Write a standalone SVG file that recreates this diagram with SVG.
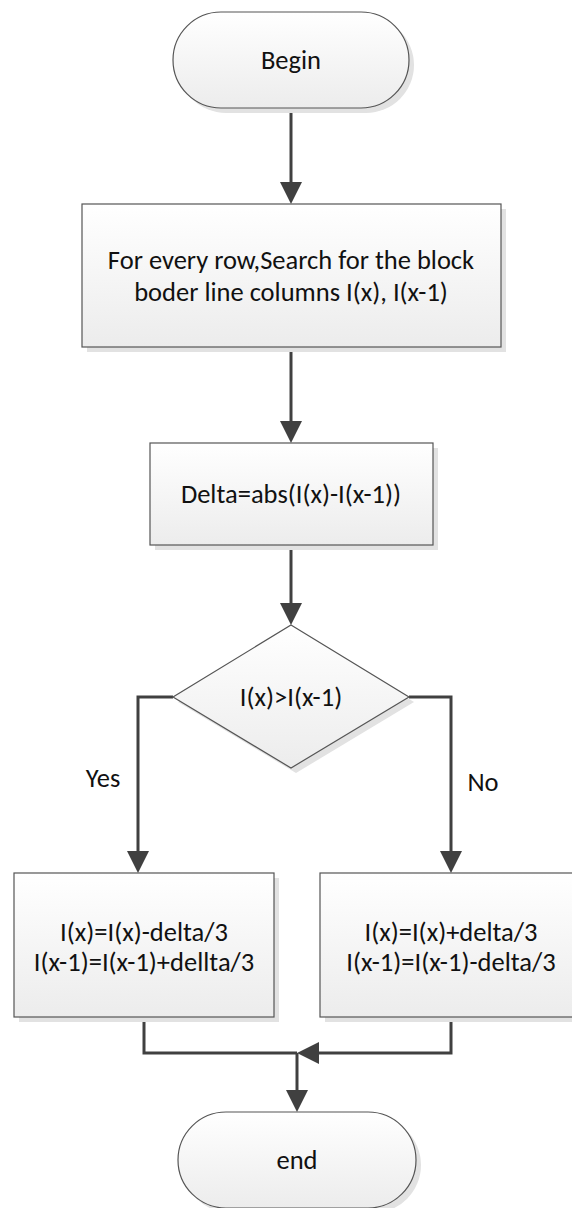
<svg xmlns="http://www.w3.org/2000/svg" width="572" height="1208" viewBox="0 0 572 1208">
<style>
.shape{stroke:#555555;stroke-width:1.2;fill:url(#g)}
.shadow{fill:#e2e2e2;stroke:none}
.t{font-family:Carlito,Lato,"Open Sans",sans-serif;font-size:26.5px;fill:#111111;text-anchor:middle;dominant-baseline:central}
.c{fill:none;stroke:#404040;stroke-width:3;marker-end:url(#arr)}
.cn{fill:none;stroke:#404040;stroke-width:3}
</style>
<defs>
<linearGradient id="g" x1="0" y1="0" x2="0" y2="1">
<stop offset="0" stop-color="#ffffff"/>
<stop offset="1" stop-color="#ececec"/>
</linearGradient>
<marker id="arr" markerUnits="userSpaceOnUse" markerWidth="22" markerHeight="22" viewBox="0 0 22 22" refX="18" refY="11" orient="auto">
<path d="M0,0 L22,11 L0,22 z" fill="#404040"/>
</marker>
</defs>
<rect width="572" height="1208" fill="#ffffff"/>
<g id="connectors">
<path class="c" d="M291,108 V200"/>
<path class="c" d="M291,347 V439"/>
<path class="c" d="M291,545 V621"/>
<path class="c" d="M173,697 H138 V869"/>
<path class="c" d="M409,697 H451 V869"/>
<path class="cn" d="M144,1017 V1053 H297"/>
<path class="c" d="M451,1017 V1053 H301"/>
<path class="c" d="M297,1053 V1108"/>
<text class="t" x="103" y="778">Yes</text>
<text class="t" x="483" y="782">No</text>
</g>
<g id="begin">
<rect class="shadow" x="178" y="17" width="236" height="96" rx="48"/>
<rect class="shape" x="173" y="12" width="236" height="96" rx="48"/>
<text class="t" x="291" y="60">Begin</text>
</g>
<g id="search">
<rect class="shadow" x="87" y="209" width="419" height="143"/>
<rect class="shape" x="82" y="204" width="419" height="143"/>
<text class="t" x="291" y="260">For every row,Search for the block</text>
<text class="t" x="291" y="292">boder line columns I(x), I(x-1)</text>
</g>
<g id="delta">
<rect class="shadow" x="155" y="448" width="283" height="102"/>
<rect class="shape" x="150" y="443" width="283" height="102"/>
<text class="t" x="291" y="494">Delta=abs(I(x)-I(x-1))</text>
</g>
<g id="decision">
<polygon class="shadow" points="296,630 414,702 296,773 178,702"/>
<polygon class="shape" points="291,625 409,697 291,768 173,697"/>
<text class="t" x="291" y="697">I(x)&gt;I(x-1)</text>
</g>
<g id="yesbox">
<rect class="shadow" x="19" y="878" width="260" height="144"/>
<rect class="shape" x="14" y="873" width="260" height="144"/>
<text class="t" x="144" y="932">I(x)=I(x)-delta/3</text>
<text class="t" x="144" y="962">I(x-1)=I(x-1)+dellta/3</text>
</g>
<g id="nobox">
<rect class="shadow" x="325" y="878" width="262" height="144"/>
<rect class="shape" x="320" y="873" width="262" height="144"/>
<text class="t" x="451" y="932">I(x)=I(x)+delta/3</text>
<text class="t" x="451" y="962">I(x-1)=I(x-1)-delta/3</text>
</g>
<g id="end">
<rect class="shadow" x="183" y="1117" width="238" height="96" rx="48"/>
<rect class="shape" x="178" y="1112" width="238" height="96" rx="48"/>
<text class="t" x="297" y="1160">end</text>
</g>
</svg>
